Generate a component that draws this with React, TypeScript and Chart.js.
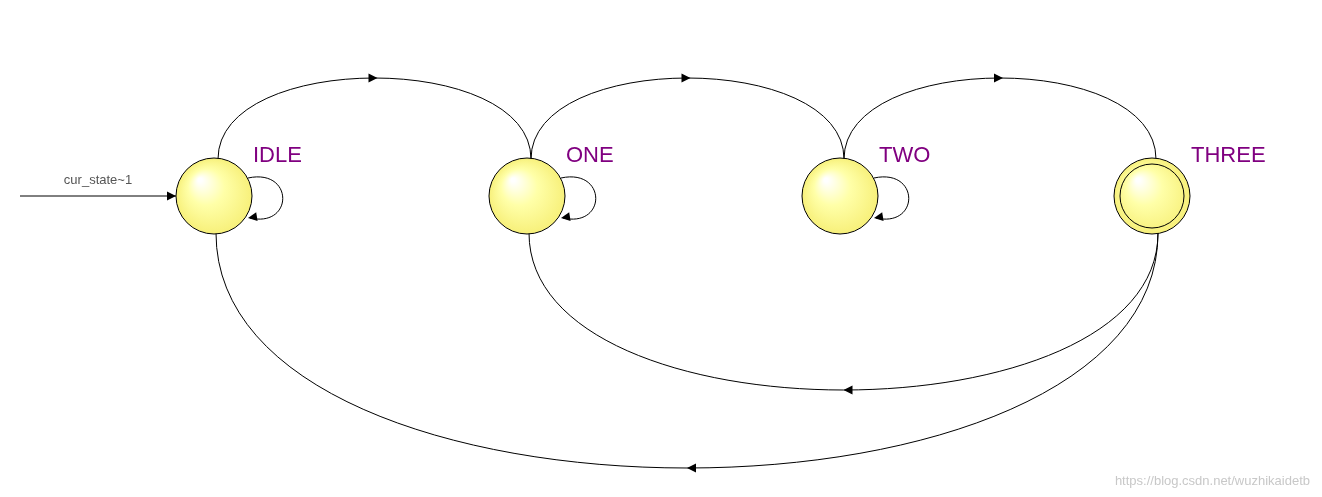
import React, { useEffect, useRef } from "react";
import { Chart, registerables } from "chart.js";
Chart.register(...registerables);

const states = ["IDLE", "ONE", "TWO", "THREE"];
const stateX = [214, 527, 840, 1152];
const stateY = [196, 196, 196, 196];
const finalStates = ["THREE"];
// transitions: from, to, side ("top" arcs above, "bottom" arcs below), extreme y of arc
const transFrom = ["IDLE", "ONE", "TWO", "THREE", "THREE"];
const transTo = ["ONE", "TWO", "THREE", "ONE", "IDLE"];
const transSide = ["top", "top", "top", "bottom", "bottom"];
const transExtreme = [78, 78, 78, 390, 468];
const selfLoops = ["IDLE", "ONE", "TWO"];
const initLabel = "cur_state~1";
const initFromX = 20;
const watermark = "https://blog.csdn.net/wuzhikaidetb";

const R = 38;

export default function App() {
  const ref = useRef<HTMLCanvasElement>(null);
  useEffect(() => {
    document.body.style.margin = "0";
    const idx = (s: string) => states.indexOf(s);
    const plugin = {
      id: "fsm",
      afterDatasetsDraw(chart: any) {
        const ctx: CanvasRenderingContext2D = chart.ctx;
        const xs = chart.scales.x, ys = chart.scales.y;
        const px = (v: number) => xs.getPixelForValue(v);
        const py = (v: number) => ys.getPixelForValue(v);
        const arrow = (x: number, y: number, ang: number) => {
          ctx.save();
          ctx.translate(x, y);
          ctx.rotate(ang);
          ctx.beginPath();
          ctx.moveTo(0, 0);
          ctx.lineTo(-9, -4.5);
          ctx.lineTo(-9, 4.5);
          ctx.closePath();
          ctx.fillStyle = "#000";
          ctx.fill();
          ctx.restore();
        };
        ctx.save();
        ctx.strokeStyle = "#000";
        ctx.lineWidth = 1;
        // transitions
        transFrom.forEach((f, i) => {
          const a = idx(f), b = idx(transTo[i]);
          const top = transSide[i] === "top";
          const off = 4;
          const x0 = px(stateX[a] + (top ? off : off + 2));
          const x3 = px(stateX[b] + (top ? off : off - 2));
          const y0 = py(stateY[a] + (top ? -R + 1 : R - 1));
          const y3 = py(stateY[b] + (top ? -R + 1 : R - 1));
          const ext = py(transExtreme[i]);
          const c = (8 * ext - y0 - y3) / 6;
          ctx.beginPath();
          ctx.moveTo(x0, y0);
          ctx.bezierCurveTo(x0, c, x3, c, x3, y3);
          ctx.stroke();
          const mx = (x0 + x3) / 2;
          arrow(mx + (top ? 3 : 0), ext, x3 > x0 ? 0 : Math.PI);
        });
        // self loops
        selfLoops.forEach((s) => {
          const k = idx(s);
          const cx = px(stateX[k]), cy = py(stateY[k]);
          const sx = cx + 34, sy = cy - 18, ex = cx + 34, ey = cy + 22;
          ctx.beginPath();
          ctx.moveTo(sx, sy);
          ctx.bezierCurveTo(cx + 80, sy - 10, cx + 80, ey + 10, ex + 2, ey);
          ctx.stroke();
          arrow(ex, ey, Math.PI * 0.95);
        });
        // initial arrow
        const ik = 0;
        const iy = py(stateY[ik]);
        const ix1 = px(stateX[ik] - R);
        ctx.beginPath();
        ctx.moveTo(px(initFromX), iy);
        ctx.lineTo(ix1, iy);
        ctx.stroke();
        arrow(ix1, iy, 0);
        ctx.font = "13px Arial, 'Liberation Sans'";
        ctx.fillStyle = "#555";
        ctx.textAlign = "center";
        ctx.textBaseline = "alphabetic";
        ctx.fillText(initLabel, (px(initFromX) + ix1) / 2, iy - 12);
        // nodes
        states.forEach((s, k) => {
          const cx = px(stateX[k]), cy = py(stateY[k]);
          const g = ctx.createRadialGradient(cx - 14, cy - 16, 2, cx, cy, R);
          g.addColorStop(0, "#ffffff");
          g.addColorStop(0.45, "#ffffa8");
          g.addColorStop(1, "#f7f07a");
          ctx.beginPath();
          ctx.arc(cx, cy, R, 0, Math.PI * 2);
          ctx.fillStyle = g;
          ctx.fill();
          ctx.stroke();
          if (finalStates.includes(s)) {
            ctx.beginPath();
            ctx.arc(cx, cy, R - 6, 0, Math.PI * 2);
            ctx.stroke();
          }
          ctx.font = "22px Arial, 'Liberation Sans'";
          ctx.fillStyle = "#800080";
          ctx.textAlign = "left";
          ctx.textBaseline = "middle";
          ctx.fillText(s, cx + 39, cy - 40);
        });
        ctx.font = "13px Arial, 'Liberation Sans'";
        ctx.fillStyle = "#c8c8c8";
        ctx.textAlign = "right";
        ctx.textBaseline = "alphabetic";
        ctx.fillText(watermark, chart.width - 12, chart.height - 12);
        ctx.restore();
      },
    };
    const chart = new Chart(ref.current!, {
      type: "scatter",
      data: {
        datasets: [
          {
            data: states.map((_, k) => ({ x: stateX[k], y: stateY[k] })),
            pointRadius: 0,
          },
        ],
      },
      options: {
        animation: false,
        responsive: false,
        layout: { padding: 0 },
        plugins: { legend: { display: false }, tooltip: { enabled: false } },
        scales: {
          x: { type: "linear", min: 0, max: 1322, display: false },
          y: { type: "linear", min: 0, max: 497, reverse: true, display: false },
        },
      },
      plugins: [plugin],
    });
    return () => chart.destroy();
  }, []);
  return (
    <div style={{ width: 1322, height: 497, background: "#fff" }}>
      <canvas ref={ref} width={1322} height={497} />
    </div>
  );
}
